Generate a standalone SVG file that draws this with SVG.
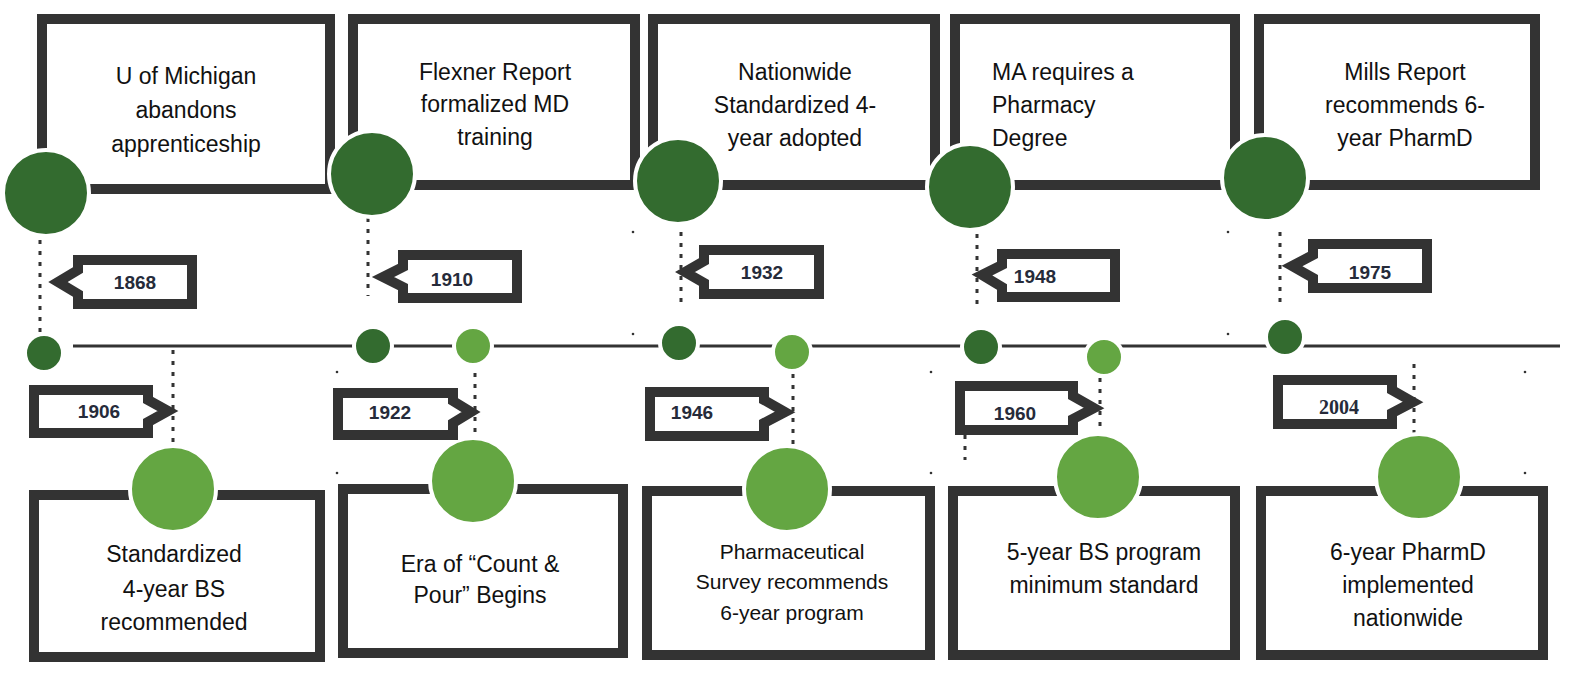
<svg xmlns="http://www.w3.org/2000/svg" width="1582" height="680" viewBox="0 0 1582 680">
<style>
.box{fill:#fff;stroke:#333;stroke-width:10}
.tag{fill:#fff;stroke:#333;stroke-width:10;stroke-linejoin:miter}
.dk{fill:#336b2f;stroke:#fff;stroke-width:4}
.lt{fill:#64a642;stroke:#fff;stroke-width:4}
.dot{stroke:#333;stroke-width:3;stroke-dasharray:4 7;fill:none}
.t{font-family:"Liberation Sans",Arial,sans-serif;font-size:23px;fill:#111;text-anchor:middle}
.y{font-family:"Liberation Sans",Arial,sans-serif;font-size:19px;font-weight:bold;fill:#262b3a;text-anchor:middle}
.sd{fill:#333}
</style>
<rect width="1582" height="680" fill="#fff"/>
<g id="connectors">
<line x1="73" y1="346" x2="1560" y2="346" stroke="#333" stroke-width="3"/>
<line class="dot" x1="40" y1="240" x2="40" y2="336"/>
<line class="dot" x1="368" y1="218" x2="368" y2="296"/>
<line class="dot" x1="681" y1="232" x2="681" y2="306"/>
<line class="dot" x1="977" y1="234" x2="977" y2="310"/>
<line class="dot" x1="1280" y1="232" x2="1280" y2="308"/>
<line class="dot" x1="173" y1="350" x2="173" y2="442"/>
<line class="dot" x1="475" y1="362" x2="475" y2="456"/>
<line class="dot" x1="793" y1="374" x2="793" y2="466"/>
<line class="dot" x1="1100" y1="378" x2="1100" y2="470"/>
<line class="dot" x1="965" y1="402" x2="965" y2="460"/>
<line class="dot" x1="1414" y1="364" x2="1414" y2="458"/>
<circle class="sd" cx="337" cy="372" r="1.3"/><circle class="sd" cx="337" cy="473" r="1.3"/>
<circle class="sd" cx="633" cy="232" r="1.3"/><circle class="sd" cx="633" cy="334" r="1.3"/>
<circle class="sd" cx="931" cy="372" r="1.3"/><circle class="sd" cx="931" cy="473" r="1.3"/>
<circle class="sd" cx="1228" cy="232" r="1.3"/><circle class="sd" cx="1228" cy="334" r="1.3"/>
<circle class="sd" cx="1525" cy="372" r="1.3"/><circle class="sd" cx="1525" cy="473" r="1.3"/>
</g>
<g id="n1868">
<rect class="box" x="42" y="19" width="288" height="170"/>
<text class="t"><tspan x="186" y="84">U of Michigan</tspan><tspan x="186" y="118">abandons</tspan><tspan x="186" y="152">apprenticeship</tspan></text>
<circle class="dk" cx="46" cy="193" r="43"/>
<circle class="dk" cx="44" cy="353" r="19"/>
<path class="tag" d="M78,260 H192 V304 H78 V294 L58,282 L78,270 Z"/>
<text class="y" x="135" y="289">1868</text>
</g>
<g id="n1906">
<rect class="box" x="34" y="495" width="286" height="162"/>
<text class="t"><tspan x="174" y="562">Standardized</tspan><tspan x="174" y="597">4-year BS</tspan><tspan x="174" y="630">recommended</tspan></text>
<circle class="lt" cx="173" cy="489" r="43"/>
<path class="tag" d="M34,390 H148 V400 L168,411 L148,422 V433 H34 Z"/>
<text class="y" x="99" y="418">1906</text>
</g>
<g id="n1910">
<rect class="box" x="353" y="19" width="282" height="166"/>
<text class="t"><tspan x="495" y="80">Flexner Report</tspan><tspan x="495" y="112">formalized MD</tspan><tspan x="495" y="145">training</tspan></text>
<circle class="dk" cx="372" cy="174" r="43"/>
<circle class="dk" cx="373" cy="346" r="19"/>
<path class="tag" d="M403,255 H517 V298 H403 V287 L383,277 L403,267 Z"/>
<text class="y" x="452" y="286">1910</text>
</g>
<g id="n1922">
<rect class="box" x="343" y="489" width="280" height="164"/>
<text class="t"><tspan x="480" y="572">Era of “Count &amp;</tspan><tspan x="480" y="603">Pour” Begins</tspan></text>
<circle class="lt" cx="473" cy="481" r="43"/>
<circle class="lt" cx="473" cy="346" r="19"/>
<path class="tag" d="M338,393 H453 V401 L471,412 L453,423 V435 H338 Z"/>
<text class="y" x="390" y="419">1922</text>
</g>
<g id="n1932">
<rect class="box" x="653" y="19" width="282" height="166"/>
<text class="t"><tspan x="795" y="80">Nationwide</tspan><tspan x="795" y="113">Standardized 4-</tspan><tspan x="795" y="146">year adopted</tspan></text>
<circle class="dk" cx="678" cy="181" r="43"/>
<circle class="dk" cx="679" cy="343" r="19"/>
<path class="tag" d="M704,250 H819 V294 H704 V283 L685,272 L704,261 Z"/>
<text class="y" x="762" y="279">1932</text>
</g>
<g id="n1946">
<rect class="box" x="647" y="491" width="283" height="164"/>
<text class="t" style="font-size:21px"><tspan x="792" y="559">Pharmaceutical</tspan><tspan x="792" y="589">Survey recommends</tspan><tspan x="792" y="620">6-year program</tspan></text>
<circle class="lt" cx="787" cy="489" r="43"/>
<circle class="lt" cx="792" cy="352" r="19"/>
<path class="tag" d="M650,392 H764 V400 L785,412 L764,423 V436 H650 Z"/>
<text class="y" x="692" y="419">1946</text>
</g>
<g id="n1948">
<rect class="box" x="955" y="19" width="280" height="166"/>
<text class="t" style="text-anchor:start"><tspan x="992" y="80">MA requires a</tspan><tspan x="992" y="113">Pharmacy</tspan><tspan x="992" y="146">Degree</tspan></text>
<circle class="dk" cx="970" cy="187" r="43"/>
<circle class="dk" cx="981" cy="347" r="19"/>
<path class="tag" d="M1002,254 H1115 V297 H1002 V287 L982,275 L1002,265 Z"/>
<text class="y" x="1035" y="283">1948</text>
</g>
<g id="n1960">
<rect class="box" x="953" y="491" width="282" height="164"/>
<text class="t"><tspan x="1104" y="560">5-year BS program</tspan><tspan x="1104" y="593">minimum standard</tspan></text>
<circle class="lt" cx="1098" cy="477" r="43"/>
<circle class="lt" cx="1104" cy="357" r="19"/>
<path class="tag" d="M960,386 H1073 V396 L1094,408 L1073,419 V430 H960 Z"/>
<text class="y" x="1015" y="420">1960</text>
</g>
<g id="n1975">
<rect class="box" x="1259" y="19" width="276" height="166"/>
<text class="t"><tspan x="1405" y="80">Mills Report</tspan><tspan x="1405" y="113">recommends 6-</tspan><tspan x="1405" y="146">year PharmD</tspan></text>
<circle class="dk" cx="1265" cy="178" r="43"/>
<circle class="dk" cx="1285" cy="337" r="19"/>
<path class="tag" d="M1313,244 H1427 V288 H1313 V278 L1292,266 L1313,255 Z"/>
<text class="y" x="1370" y="279">1975</text>
</g>
<g id="n2004">
<rect class="box" x="1261" y="491" width="282" height="164"/>
<text class="t"><tspan x="1408" y="560">6-year PharmD</tspan><tspan x="1408" y="593">implemented</tspan><tspan x="1408" y="626">nationwide</tspan></text>
<circle class="lt" cx="1419" cy="477" r="43"/>
<path class="tag" d="M1278,380 H1392 V390 L1413,402 L1392,413 V424 H1278 Z"/>
<text class="y" x="1339" y="414" style="font-family:'Liberation Serif',serif;font-size:20px">2004</text>
</g>
</svg>
